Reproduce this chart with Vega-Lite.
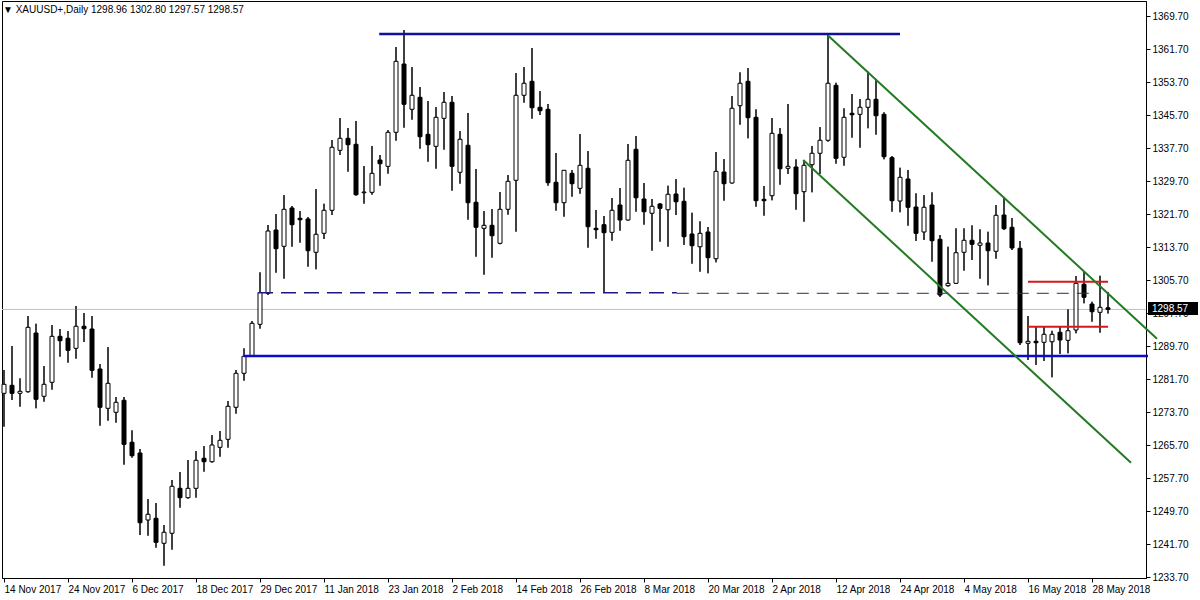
{
  "$schema": "https://vega.github.io/schema/vega-lite/v6.json",
  "width": 1144,
  "height": 577,
  "autosize": {"type": "none"},
  "padding": {"left": 2, "top": 1, "right": 54, "bottom": 22},
  "background": "white",
  "config": {
    "view": {"stroke": "black", "strokeWidth": 1},
    "font": "Liberation Sans",
    "scale": {"continuousPadding": 0},
    "axis": {
      "title": null, "grid": false, "tickSize": 4, "tickColor": "black", "domainColor": "black",
      "labelColor": "black", "labelFont": "Liberation Sans", "labelFontSize": 10,
      "labelOverlap": false, "labelBound": false, "labelFlush": false, "labelPadding": 2
    },
    "axisX": {"labelAlign": "left"}
  },
  "title": {
    "text": "▼ XAUUSD+,Daily  1298.96 1302.80 1297.57 1298.57",
    "anchor": "start",
    "frame": "group",
    "offset": -14,
    "dx": 1,
    "font": "Liberation Sans",
    "fontSize": 10,
    "fontWeight": "normal",
    "color": "black"
  },
  "datasets": {
    "candles": [
      {"date":"2017-11-14","i":0,"open":1278.23,"high":1283.88,"low":1270.14,"close":1280.42},
      {"date":"2017-11-15","i":1,"open":1280.17,"high":1289.70,"low":1276.61,"close":1278.23},
      {"date":"2017-11-16","i":2,"open":1278.23,"high":1281.87,"low":1274.99,"close":1278.72},
      {"date":"2017-11-17","i":3,"open":1278.62,"high":1296.97,"low":1278.38,"close":1294.23},
      {"date":"2017-11-20","i":4,"open":1292.85,"high":1295.11,"low":1274.60,"close":1276.78},
      {"date":"2017-11-21","i":5,"open":1277.51,"high":1284.85,"low":1276.20,"close":1280.42},
      {"date":"2017-11-22","i":6,"open":1280.90,"high":1294.79,"low":1279.11,"close":1292.05},
      {"date":"2017-11-23","i":7,"open":1292.05,"high":1293.82,"low":1287.11,"close":1290.99},
      {"date":"2017-11-24","i":8,"open":1291.57,"high":1293.34,"low":1285.65,"close":1288.66},
      {"date":"2017-11-27","i":9,"open":1289.14,"high":1299.40,"low":1286.62,"close":1294.48},
      {"date":"2017-11-28","i":10,"open":1294.48,"high":1297.70,"low":1290.67,"close":1293.90},
      {"date":"2017-11-29","i":11,"open":1293.82,"high":1296.97,"low":1282.02,"close":1283.81},
      {"date":"2017-11-30","i":12,"open":1284.13,"high":1285.34,"low":1270.38,"close":1274.84},
      {"date":"2017-12-01","i":13,"open":1274.60,"high":1289.46,"low":1271.59,"close":1280.66},
      {"date":"2017-12-04","i":14,"open":1273.63,"high":1277.34,"low":1271.11,"close":1276.05},
      {"date":"2017-12-05","i":15,"open":1276.54,"high":1277.34,"low":1260.93,"close":1265.87},
      {"date":"2017-12-06","i":16,"open":1266.36,"high":1269.26,"low":1262.62,"close":1263.11},
      {"date":"2017-12-07","i":17,"open":1263.76,"high":1264.73,"low":1243.88,"close":1246.86},
      {"date":"2017-12-08","i":18,"open":1247.52,"high":1252.61,"low":1243.71,"close":1248.90},
      {"date":"2017-12-11","i":19,"open":1247.93,"high":1251.64,"low":1240.80,"close":1242.11},
      {"date":"2017-12-12","i":20,"open":1241.87,"high":1246.31,"low":1236.44,"close":1244.54},
      {"date":"2017-12-13","i":21,"open":1244.30,"high":1257.22,"low":1240.32,"close":1255.69},
      {"date":"2017-12-14","i":22,"open":1255.20,"high":1259.16,"low":1250.50,"close":1252.93},
      {"date":"2017-12-15","i":23,"open":1252.93,"high":1262.06,"low":1252.68,"close":1255.20},
      {"date":"2017-12-18","i":24,"open":1255.20,"high":1264.25,"low":1252.93,"close":1261.99},
      {"date":"2017-12-19","i":25,"open":1262.48,"high":1265.46,"low":1259.23,"close":1261.65},
      {"date":"2017-12-20","i":26,"open":1261.65,"high":1268.13,"low":1261.41,"close":1265.70},
      {"date":"2017-12-21","i":27,"open":1265.14,"high":1269.10,"low":1262.86,"close":1266.84},
      {"date":"2017-12-22","i":28,"open":1267.08,"high":1276.37,"low":1265.05,"close":1275.08},
      {"date":"2017-12-26","i":29,"open":1274.84,"high":1283.88,"low":1273.29,"close":1283.08},
      {"date":"2017-12-27","i":30,"open":1283.08,"high":1289.14,"low":1281.29,"close":1287.20},
      {"date":"2017-12-28","i":31,"open":1287.28,"high":1295.76,"low":1287.03,"close":1295.20},
      {"date":"2017-12-29","i":32,"open":1294.96,"high":1307.57,"low":1293.90,"close":1302.67},
      {"date":"2018-01-02","i":33,"open":1302.48,"high":1319.03,"low":1302.06,"close":1317.58},
      {"date":"2018-01-03","i":34,"open":1317.82,"high":1321.70,"low":1307.47,"close":1313.29},
      {"date":"2018-01-04","i":35,"open":1313.87,"high":1326.31,"low":1306.02,"close":1322.84},
      {"date":"2018-01-05","i":36,"open":1323.16,"high":1323.64,"low":1313.77,"close":1319.11},
      {"date":"2018-01-08","i":37,"open":1320.66,"high":1322.43,"low":1314.74,"close":1320.32},
      {"date":"2018-01-09","i":38,"open":1320.49,"high":1320.97,"low":1308.93,"close":1312.80},
      {"date":"2018-01-10","i":39,"open":1312.42,"high":1327.76,"low":1308.30,"close":1316.78},
      {"date":"2018-01-11","i":40,"open":1317.02,"high":1324.20,"low":1315.64,"close":1322.60},
      {"date":"2018-01-12","i":41,"open":1322.60,"high":1339.64,"low":1321.46,"close":1337.87},
      {"date":"2018-01-15","i":42,"open":1337.14,"high":1344.97,"low":1336.00,"close":1340.05},
      {"date":"2018-01-16","i":43,"open":1340.05,"high":1342.55,"low":1331.96,"close":1338.50},
      {"date":"2018-01-17","i":44,"open":1338.60,"high":1344.25,"low":1326.14,"close":1326.38},
      {"date":"2018-01-18","i":45,"open":1326.86,"high":1333.34,"low":1324.20,"close":1327.03},
      {"date":"2018-01-19","i":46,"open":1326.96,"high":1338.19,"low":1326.38,"close":1331.57},
      {"date":"2018-01-22","i":47,"open":1334.79,"high":1336.00,"low":1328.56,"close":1333.90},
      {"date":"2018-01-23","i":48,"open":1333.26,"high":1342.06,"low":1331.47,"close":1341.51},
      {"date":"2018-01-24","i":49,"open":1341.51,"high":1362.19,"low":1339.47,"close":1358.72},
      {"date":"2018-01-25","i":50,"open":1358.06,"high":1366.31,"low":1342.62,"close":1348.30},
      {"date":"2018-01-26","i":51,"open":1347.08,"high":1357.34,"low":1344.56,"close":1350.48},
      {"date":"2018-01-29","i":52,"open":1349.99,"high":1352.49,"low":1337.53,"close":1340.44},
      {"date":"2018-01-30","i":53,"open":1341.02,"high":1349.10,"low":1334.38,"close":1338.50},
      {"date":"2018-01-31","i":54,"open":1338.11,"high":1347.64,"low":1332.68,"close":1345.14},
      {"date":"2018-02-01","i":55,"open":1344.90,"high":1351.28,"low":1337.29,"close":1348.78},
      {"date":"2018-02-02","i":56,"open":1348.78,"high":1350.31,"low":1327.35,"close":1333.26},
      {"date":"2018-02-05","i":57,"open":1331.81,"high":1341.82,"low":1329.05,"close":1339.81},
      {"date":"2018-02-06","i":58,"open":1338.36,"high":1346.19,"low":1320.32,"close":1324.44},
      {"date":"2018-02-07","i":59,"open":1324.54,"high":1332.61,"low":1311.35,"close":1318.48},
      {"date":"2018-02-08","i":60,"open":1318.23,"high":1322.43,"low":1306.99,"close":1318.96},
      {"date":"2018-02-09","i":61,"open":1318.96,"high":1322.91,"low":1311.11,"close":1316.44},
      {"date":"2018-02-12","i":62,"open":1314.60,"high":1327.03,"low":1314.36,"close":1322.84},
      {"date":"2018-02-13","i":63,"open":1322.84,"high":1331.16,"low":1321.53,"close":1329.63},
      {"date":"2018-02-14","i":64,"open":1329.87,"high":1355.88,"low":1317.41,"close":1350.48},
      {"date":"2018-02-15","i":65,"open":1350.48,"high":1357.34,"low":1348.68,"close":1353.39},
      {"date":"2018-02-16","i":66,"open":1353.87,"high":1361.94,"low":1344.80,"close":1347.47},
      {"date":"2018-02-19","i":67,"open":1347.57,"high":1351.52,"low":1345.70,"close":1346.74},
      {"date":"2018-02-20","i":68,"open":1347.08,"high":1348.37,"low":1328.56,"close":1329.29},
      {"date":"2018-02-21","i":69,"open":1329.39,"high":1336.49,"low":1322.50,"close":1324.44},
      {"date":"2018-02-22","i":70,"open":1324.44,"high":1332.37,"low":1321.05,"close":1332.30},
      {"date":"2018-02-23","i":71,"open":1331.57,"high":1332.37,"low":1325.90,"close":1329.05},
      {"date":"2018-02-26","i":72,"open":1327.93,"high":1341.10,"low":1326.62,"close":1333.51},
      {"date":"2018-02-27","i":73,"open":1332.78,"high":1336.97,"low":1313.53,"close":1318.62},
      {"date":"2018-02-28","i":74,"open":1318.23,"high":1322.67,"low":1315.71,"close":1317.90},
      {"date":"2018-03-01","i":75,"open":1319.11,"high":1321.22,"low":1302.62,"close":1317.17},
      {"date":"2018-03-02","i":76,"open":1317.26,"high":1325.58,"low":1315.23,"close":1322.60},
      {"date":"2018-03-05","i":77,"open":1323.88,"high":1328.00,"low":1317.65,"close":1320.25},
      {"date":"2018-03-06","i":78,"open":1320.25,"high":1338.67,"low":1320.08,"close":1334.72},
      {"date":"2018-03-07","i":79,"open":1337.39,"high":1340.61,"low":1322.26,"close":1325.65},
      {"date":"2018-03-08","i":80,"open":1325.34,"high":1329.22,"low":1319.11,"close":1322.26},
      {"date":"2018-03-09","i":81,"open":1321.87,"high":1325.34,"low":1312.80,"close":1323.57},
      {"date":"2018-03-12","i":82,"open":1324.13,"high":1324.37,"low":1314.99,"close":1323.08},
      {"date":"2018-03-13","i":83,"open":1322.74,"high":1328.56,"low":1313.77,"close":1326.48},
      {"date":"2018-03-14","i":84,"open":1326.55,"high":1330.19,"low":1321.46,"close":1324.68},
      {"date":"2018-03-15","i":85,"open":1324.78,"high":1328.08,"low":1314.19,"close":1316.20},
      {"date":"2018-03-16","i":86,"open":1316.85,"high":1322.02,"low":1309.65,"close":1314.02},
      {"date":"2018-03-19","i":87,"open":1313.77,"high":1319.93,"low":1307.71,"close":1317.02},
      {"date":"2018-03-20","i":88,"open":1317.34,"high":1318.55,"low":1307.33,"close":1311.11},
      {"date":"2018-03-21","i":89,"open":1310.86,"high":1336.73,"low":1309.99,"close":1332.05},
      {"date":"2018-03-22","i":90,"open":1331.88,"high":1335.03,"low":1324.93,"close":1329.05},
      {"date":"2018-03-23","i":91,"open":1329.22,"high":1350.31,"low":1329.05,"close":1347.33},
      {"date":"2018-03-26","i":92,"open":1347.96,"high":1356.05,"low":1343.35,"close":1353.39},
      {"date":"2018-03-27","i":93,"open":1353.87,"high":1357.10,"low":1340.05,"close":1345.05},
      {"date":"2018-03-28","i":94,"open":1345.14,"high":1347.08,"low":1323.47,"close":1324.93},
      {"date":"2018-03-29","i":95,"open":1325.26,"high":1328.49,"low":1321.29,"close":1324.93},
      {"date":"2018-04-02","i":96,"open":1326.14,"high":1344.97,"low":1325.02,"close":1341.26},
      {"date":"2018-04-03","i":97,"open":1341.02,"high":1342.55,"low":1328.80,"close":1332.68},
      {"date":"2018-04-04","i":98,"open":1332.78,"high":1348.37,"low":1331.40,"close":1333.26},
      {"date":"2018-04-05","i":99,"open":1333.10,"high":1334.96,"low":1322.74,"close":1326.62},
      {"date":"2018-04-06","i":100,"open":1327.11,"high":1334.79,"low":1319.83,"close":1333.51},
      {"date":"2018-04-09","i":101,"open":1333.65,"high":1338.19,"low":1326.96,"close":1336.42},
      {"date":"2018-04-10","i":102,"open":1336.42,"high":1342.79,"low":1331.40,"close":1339.57},
      {"date":"2018-04-11","i":103,"open":1339.57,"high":1365.10,"low":1339.23,"close":1353.39},
      {"date":"2018-04-12","i":104,"open":1352.90,"high":1353.53,"low":1333.90,"close":1335.20},
      {"date":"2018-04-13","i":105,"open":1335.45,"high":1347.33,"low":1333.41,"close":1345.14},
      {"date":"2018-04-16","i":106,"open":1346.11,"high":1350.79,"low":1340.20,"close":1345.77},
      {"date":"2018-04-17","i":107,"open":1345.87,"high":1349.58,"low":1337.77,"close":1347.57},
      {"date":"2018-04-18","i":108,"open":1347.57,"high":1356.20,"low":1342.48,"close":1349.51},
      {"date":"2018-04-19","i":109,"open":1349.51,"high":1354.36,"low":1340.93,"close":1345.53},
      {"date":"2018-04-20","i":110,"open":1345.87,"high":1346.36,"low":1334.96,"close":1335.59},
      {"date":"2018-04-23","i":111,"open":1335.35,"high":1335.76,"low":1322.26,"close":1324.93},
      {"date":"2018-04-24","i":112,"open":1324.85,"high":1332.93,"low":1322.11,"close":1330.60},
      {"date":"2018-04-25","i":113,"open":1330.19,"high":1332.37,"low":1318.86,"close":1323.33},
      {"date":"2018-04-26","i":114,"open":1323.40,"high":1326.72,"low":1315.16,"close":1317.02},
      {"date":"2018-04-27","i":115,"open":1317.34,"high":1326.31,"low":1315.40,"close":1323.33},
      {"date":"2018-04-30","i":116,"open":1323.88,"high":1326.96,"low":1310.14,"close":1315.23},
      {"date":"2018-05-01","i":117,"open":1315.57,"high":1316.61,"low":1301.58,"close":1302.06},
      {"date":"2018-05-02","i":118,"open":1304.32,"high":1313.77,"low":1304.08,"close":1304.90},
      {"date":"2018-05-03","i":119,"open":1304.90,"high":1318.23,"low":1304.73,"close":1312.32},
      {"date":"2018-05-04","i":120,"open":1312.42,"high":1318.23,"low":1307.96,"close":1315.33},
      {"date":"2018-05-07","i":121,"open":1315.33,"high":1318.96,"low":1310.55,"close":1314.36},
      {"date":"2018-05-08","i":122,"open":1314.11,"high":1317.99,"low":1306.02,"close":1314.67},
      {"date":"2018-05-09","i":123,"open":1314.67,"high":1317.41,"low":1304.42,"close":1312.80},
      {"date":"2018-05-10","i":124,"open":1312.66,"high":1323.88,"low":1310.86,"close":1321.39},
      {"date":"2018-05-11","i":125,"open":1321.46,"high":1325.82,"low":1317.82,"close":1318.14},
      {"date":"2018-05-14","i":126,"open":1318.48,"high":1320.73,"low":1312.97,"close":1313.46},
      {"date":"2018-05-15","i":127,"open":1313.39,"high":1315.16,"low":1289.94,"close":1290.50},
      {"date":"2018-05-16","i":128,"open":1290.36,"high":1296.97,"low":1286.31,"close":1290.84},
      {"date":"2018-05-17","i":129,"open":1290.84,"high":1294.38,"low":1285.10,"close":1290.50},
      {"date":"2018-05-18","i":130,"open":1290.60,"high":1294.38,"low":1286.06,"close":1292.54},
      {"date":"2018-05-21","i":131,"open":1290.74,"high":1293.41,"low":1282.11,"close":1292.54},
      {"date":"2018-05-22","i":132,"open":1293.02,"high":1294.38,"low":1287.76,"close":1291.16},
      {"date":"2018-05-23","i":133,"open":1291.08,"high":1298.67,"low":1287.93,"close":1293.41},
      {"date":"2018-05-24","i":134,"open":1293.58,"high":1306.67,"low":1292.78,"close":1304.90},
      {"date":"2018-05-25","i":135,"open":1304.66,"high":1307.71,"low":1300.05,"close":1301.51},
      {"date":"2018-05-28","i":136,"open":1299.88,"high":1300.44,"low":1295.59,"close":1298.02},
      {"date":"2018-05-29","i":137,"open":1297.87,"high":1306.74,"low":1292.93,"close":1299.08},
      {"date":"2018-05-30","i":138,"open":1298.96,"high":1302.80,"low":1297.57,"close":1298.57}
    ],
    "resistance": [{"from": 46.9, "to": 112, "price": 1365.34}],
    "support": [{"from": 30, "to": 143, "price": 1287.3}],
    "neckA": [{"from": 31.75, "to": 84.1, "price": 1302.62}],
    "neckB": [{"from": 84.1, "to": 136, "price": 1302.48}],
    "range": [{"from": 128, "to": 138, "price": 1305.29}, {"from": 128, "to": 138, "price": 1294.38}],
    "channel": [{"from": 103, "p1": 1365.0, "to": 144.125, "p2": 1291.47}, {"from": 99.9, "p1": 1334.79, "to": 140.875, "p2": 1261.41}],
    "last": [{"price": 1298.57, "label": "1298.57"}]
  },
  "layer": [
    {
      "data": {"name": "candles"},
      "mark": {"type": "rule", "color": "black", "strokeWidth": 1},
      "encoding": {
        "x": {
          "field": "i", "type": "quantitative",
          "scale": {"domain": [-0.25, 142.75], "nice": false, "zero": false, "padding": 0},
          "axis": {
            "orient": "bottom",
            "tickCount": 40,
            "values": [0, 8, 16, 24, 32, 40, 48, 56, 64, 72, 80, 88, 96, 104, 112, 120, 128, 136],
            "labelExpr": "['14 Nov 2017','24 Nov 2017','6 Dec 2017','18 Dec 2017','29 Dec 2017','11 Jan 2018','23 Jan 2018','2 Feb 2018','14 Feb 2018','26 Feb 2018','8 Mar 2018','20 Mar 2018','2 Apr 2018','12 Apr 2018','24 Apr 2018','4 May 2018','16 May 2018','28 May 2018'][round(datum.value/8)]"
          }
        },
        "y": {
          "field": "low", "type": "quantitative",
          "scale": {"domain": [1233.46, 1373.34], "nice": false, "zero": false, "padding": 0},
          "axis": {
            "orient": "right",
            "tickCount": 40,
            "values": [1233.7, 1241.7, 1249.7, 1257.7, 1265.7, 1273.7, 1281.7, 1289.7, 1297.7, 1305.7, 1313.7, 1321.7, 1329.7, 1337.7, 1345.7, 1353.7, 1361.7, 1369.7],
            "format": ".2f"
          }
        },
        "y2": {"field": "high"}
      }
    },
    {
      "data": {"name": "last"},
      "mark": {"type": "rule", "color": "#c0c0c0", "strokeWidth": 1},
      "encoding": {
        "y": {"field": "price", "type": "quantitative", "axis": {"orient": "right"}}
      }
    },
    {
      "data": {"name": "candles"},
      "mark": {"type": "rule", "color": "black", "strokeWidth": 1},
      "encoding": {
        "x": {"field": "i", "type": "quantitative", "axis": {"orient": "bottom"}},
        "y": {"field": "low", "type": "quantitative", "axis": {"orient": "right"}},
        "y2": {"field": "high"}
      }
    },
    {
      "data": {"name": "candles"},
      "mark": {"type": "bar", "width": 4, "stroke": "black", "strokeWidth": 1},
      "encoding": {
        "x": {"field": "i", "type": "quantitative", "scale": {"padding": 0}, "axis": {"orient": "bottom"}},
        "y": {"field": "open", "type": "quantitative", "axis": {"orient": "right"}},
        "y2": {"field": "close"},
        "fill": {"condition": {"test": "datum.close < datum.open", "value": "black"}, "value": "white"}
      }
    },
    {
      "data": {"name": "neckA"},
      "mark": {"type": "rule", "color": "#1a1a80", "strokeWidth": 1.5, "strokeDash": [15, 8]},
      "encoding": {
        "x": {"field": "from", "type": "quantitative", "axis": {"orient": "bottom"}},
        "x2": {"field": "to"},
        "y": {"field": "price", "type": "quantitative", "axis": {"orient": "right"}}
      }
    },
    {
      "data": {"name": "neckB"},
      "mark": {"type": "rule", "color": "#2a2a66", "strokeWidth": 1, "strokeDash": [12, 8]},
      "encoding": {
        "x": {"field": "from", "type": "quantitative", "axis": {"orient": "bottom"}},
        "x2": {"field": "to"},
        "y": {"field": "price", "type": "quantitative", "axis": {"orient": "right"}}
      }
    },
    {
      "data": {"name": "support"},
      "mark": {"type": "rule", "color": "#0b0bd0", "strokeWidth": 2.5},
      "encoding": {
        "x": {"field": "from", "type": "quantitative", "axis": {"orient": "bottom"}},
        "x2": {"field": "to"},
        "y": {"field": "price", "type": "quantitative", "axis": {"orient": "right"}}
      }
    },
    {
      "data": {"name": "resistance"},
      "mark": {"type": "rule", "color": "#10109a", "strokeWidth": 2.5},
      "encoding": {
        "x": {"field": "from", "type": "quantitative", "axis": {"orient": "bottom"}},
        "x2": {"field": "to"},
        "y": {"field": "price", "type": "quantitative", "axis": {"orient": "right"}}
      }
    },
    {
      "data": {"name": "range"},
      "mark": {"type": "rule", "color": "#d81818", "strokeWidth": 2},
      "encoding": {
        "x": {"field": "from", "type": "quantitative", "axis": {"orient": "bottom"}},
        "x2": {"field": "to"},
        "y": {"field": "price", "type": "quantitative", "axis": {"orient": "right"}}
      }
    },
    {
      "data": {"name": "channel"},
      "mark": {"type": "rule", "color": "#237a23", "strokeWidth": 2},
      "encoding": {
        "x": {"field": "from", "type": "quantitative", "axis": {"orient": "bottom"}},
        "x2": {"field": "to"},
        "y": {"field": "p1", "type": "quantitative", "axis": {"orient": "right"}},
        "y2": {"field": "p2"}
      }
    },
    {
      "data": {"name": "last"},
      "mark": {"type": "rect", "color": "black"},
      "encoding": {
        "x": {"datum": 143, "type": "quantitative", "axis": {"orient": "bottom"}},
        "x2": {"datum": 149.25},
        "y": {"datum": 1297.22, "type": "quantitative", "axis": {"orient": "right"}},
        "y2": {"datum": 1300.37}
      }
    },
    {
      "data": {"name": "last"},
      "mark": {"type": "text", "color": "white", "align": "left", "baseline": "middle", "font": "Liberation Sans", "fontSize": 10},
      "encoding": {
        "x": {"datum": 143.5, "type": "quantitative", "axis": {"orient": "bottom"}},
        "y": {"field": "price", "type": "quantitative", "axis": {"orient": "right"}},
        "text": {"field": "label"}
      }
    }
  ]
}
